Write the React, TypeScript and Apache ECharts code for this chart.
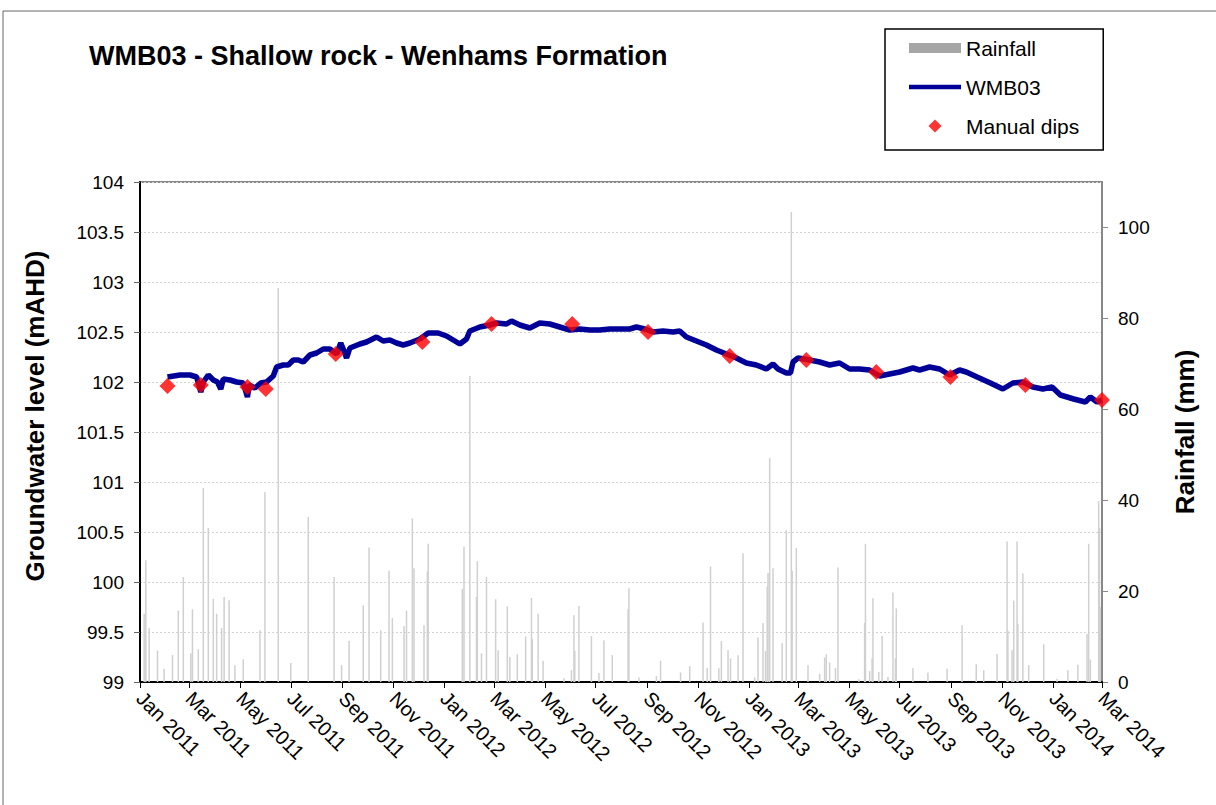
import React, { useEffect, useRef } from "react";
import * as echarts from "echarts";

const MONTHS = ["Jan", "Feb", "Mar", "Apr", "May", "Jun", "Jul", "Aug", "Sep", "Oct", "Nov", "Dec"];

const tickDates = [
  "2011-01-01", "2011-03-01", "2011-05-01", "2011-07-01", "2011-09-01", "2011-11-01",
  "2012-01-01", "2012-03-01", "2012-05-01", "2012-07-01", "2012-09-01", "2012-11-01",
  "2013-01-01", "2013-03-01", "2013-05-01", "2013-07-01", "2013-09-01", "2013-11-01",
  "2014-01-01", "2014-03-01",
];

const rainTicks = [0, 20, 40, 60, 80, 100];

// Daily rainfall (mm)
const rainfall: [string, number][] = [
  ["2011-01-06", 15], ["2011-01-08", 26.8], ["2011-01-12", 11.9], ["2011-01-22", 6.9], ["2011-01-30", 2.9],
  ["2011-02-09", 5.9], ["2011-02-16", 15.7], ["2011-02-22", 23.1], ["2011-03-03", 6.3], ["2011-03-05", 16],
  ["2011-03-12", 7.2], ["2011-03-18", 42.7], ["2011-03-24", 33.9], ["2011-03-30", 18.3], ["2011-04-03", 15],
  ["2011-04-09", 11.9], ["2011-04-12", 18.7], ["2011-04-18", 18], ["2011-04-25", 3.7], ["2011-05-05", 5],
  ["2011-05-25", 11.4], ["2011-05-31", 41.8], ["2011-06-16", 86.7], ["2011-07-01", 4.2], ["2011-07-22", 36.3],
  ["2011-08-22", 23.1], ["2011-08-31", 3.7], ["2011-09-09", 9], ["2011-09-26", 16.9], ["2011-10-03", 29.6],
  ["2011-10-17", 11.4], ["2011-10-27", 24.5], ["2011-10-31", 14.1], ["2011-11-14", 12.3], ["2011-11-17", 15.7],
  ["2011-11-24", 36], ["2011-11-26", 25], ["2011-12-08", 12.5], ["2011-12-12", 24.3], ["2011-12-13", 30.4],
  ["2012-01-23", 20.5], ["2012-01-25", 29.8], ["2012-02-01", 67.3], ["2012-02-09", 18.7], ["2012-02-10", 26.6],
  ["2012-02-15", 6.3], ["2012-02-21", 23.1], ["2012-03-03", 18.2], ["2012-03-06", 7], ["2012-03-17", 16.6],
  ["2012-03-20", 5.5], ["2012-03-29", 6.1], ["2012-04-08", 10], ["2012-04-15", 18.5], ["2012-04-16", 9.4],
  ["2012-04-23", 15], ["2012-04-29", 4.7], ["2012-05-24", 0.8], ["2012-06-02", 2.6], ["2012-06-05", 14.7],
  ["2012-06-06", 6.9], ["2012-06-11", 16.7], ["2012-06-26", 10.1], ["2012-07-05", 2], ["2012-07-11", 9.2],
  ["2012-07-21", 5.9], ["2012-08-09", 16], ["2012-08-10", 20.6], ["2012-08-22", 1], ["2012-09-12", 1.3],
  ["2012-09-17", 4.7], ["2012-10-11", 2.1], ["2012-10-22", 3.5], ["2012-11-07", 13.1], ["2012-11-12", 3.1],
  ["2012-11-16", 25.4], ["2012-11-26", 3], ["2012-11-29", 9], ["2012-12-07", 7], ["2012-12-10", 5.2],
  ["2012-12-19", 5.9], ["2012-12-25", 28.3], ["2013-01-08", 1], ["2013-01-12", 9.8], ["2013-01-18", 13],
  ["2013-01-21", 6.8], ["2013-01-23", 21], ["2013-01-24", 24], ["2013-01-26", 49.3], ["2013-01-30", 25],
  ["2013-02-10", 8.5], ["2013-02-15", 33.4], ["2013-02-21", 103.4], ["2013-02-22", 24.5], ["2013-02-27", 29.5],
  ["2013-03-13", 3.7], ["2013-03-27", 1.8], ["2013-04-02", 5.4], ["2013-04-04", 6.1], ["2013-04-08", 4.3],
  ["2013-04-15", 3.1], ["2013-04-18", 25.2], ["2013-05-13", 0.6], ["2013-05-20", 13], ["2013-05-21", 30.4],
  ["2013-05-26", 2.4], ["2013-05-29", 5.2], ["2013-05-30", 18.4], ["2013-06-06", 2.2], ["2013-06-10", 10.1],
  ["2013-06-17", 1.1], ["2013-06-23", 19.7], ["2013-06-26", 5.2], ["2013-06-27", 16.2], ["2013-07-17", 3.1],
  ["2013-08-04", 2.1], ["2013-08-27", 2.9], ["2013-09-14", 12.5], ["2013-10-01", 3.9], ["2013-10-10", 2.6],
  ["2013-10-26", 6.2], ["2013-11-07", 30.9], ["2013-11-08", 11.3], ["2013-11-13", 7], ["2013-11-15", 17.9],
  ["2013-11-19", 30.9], ["2013-11-20", 12.8], ["2013-11-26", 23.9], ["2013-12-03", 3.7], ["2013-12-21", 8.3],
  ["2014-01-06", 0.7], ["2014-01-19", 2.6], ["2014-01-31", 3.8], ["2014-02-11", 10.6], ["2014-02-13", 30.4],
  ["2014-02-15", 4.9], ["2014-02-25", 39.8], ["2014-02-26", 33.9], ["2014-02-27", 16.5],
];

// Logger groundwater level WMB03 (mAHD)
const wmb03: [string, number][] = [
  ["2011-02-03", 102.05], ["2011-02-18", 102.07], ["2011-03-02", 102.07], ["2011-03-10", 102.05], ["2011-03-15", 101.9],
  ["2011-03-18", 102.0], ["2011-03-24", 102.07], ["2011-03-30", 102.02], ["2011-04-04", 102.0], ["2011-04-08", 101.93],
  ["2011-04-11", 102.03], ["2011-04-19", 102.02], ["2011-04-27", 102.0], ["2011-05-05", 101.99], ["2011-05-10", 101.85],
  ["2011-05-12", 101.97], ["2011-05-19", 101.94], ["2011-05-26", 101.99], ["2011-06-02", 102.0], ["2011-06-10", 102.06],
  ["2011-06-14", 102.15], ["2011-06-22", 102.17], ["2011-06-28", 102.17], ["2011-07-04", 102.22], ["2011-07-10", 102.22],
  ["2011-07-16", 102.2], ["2011-07-24", 102.27], ["2011-08-01", 102.29], ["2011-08-09", 102.33], ["2011-08-17", 102.33],
  ["2011-08-25", 102.28], ["2011-08-30", 102.39], ["2011-09-02", 102.33], ["2011-09-06", 102.24], ["2011-09-10", 102.34],
  ["2011-09-22", 102.38], ["2011-09-30", 102.4], ["2011-10-12", 102.45], ["2011-10-20", 102.41], ["2011-10-28", 102.42],
  ["2011-11-05", 102.39], ["2011-11-13", 102.37], ["2011-11-21", 102.39], ["2011-12-03", 102.43], ["2011-12-13", 102.49],
  ["2011-12-25", 102.49], ["2012-01-04", 102.46], ["2012-01-14", 102.41], ["2012-01-20", 102.38], ["2012-01-28", 102.43],
  ["2012-02-01", 102.51], ["2012-02-13", 102.55], ["2012-02-25", 102.57], ["2012-03-04", 102.59], ["2012-03-16", 102.58],
  ["2012-03-22", 102.61], ["2012-04-01", 102.57], ["2012-04-13", 102.54], ["2012-04-25", 102.59], ["2012-05-07", 102.58],
  ["2012-05-19", 102.55], ["2012-05-31", 102.52], ["2012-06-12", 102.53], ["2012-06-24", 102.52], ["2012-07-06", 102.52],
  ["2012-07-18", 102.53], ["2012-07-30", 102.53], ["2012-08-11", 102.53], ["2012-08-19", 102.55], ["2012-08-29", 102.53],
  ["2012-09-08", 102.5], ["2012-09-20", 102.51], ["2012-10-02", 102.5], ["2012-10-10", 102.51], ["2012-10-18", 102.45],
  ["2012-10-30", 102.41], ["2012-11-11", 102.37], ["2012-11-23", 102.32], ["2012-12-05", 102.28], ["2012-12-17", 102.24],
  ["2012-12-29", 102.19], ["2013-01-10", 102.17], ["2013-01-22", 102.13], ["2013-01-30", 102.18], ["2013-02-05", 102.13],
  ["2013-02-15", 102.09], ["2013-02-20", 102.09], ["2013-02-23", 102.2], ["2013-03-01", 102.24], ["2013-03-15", 102.22],
  ["2013-03-27", 102.2], ["2013-04-08", 102.17], ["2013-04-20", 102.19], ["2013-05-02", 102.13], ["2013-05-14", 102.13],
  ["2013-05-26", 102.12], ["2013-06-07", 102.06], ["2013-06-19", 102.08], ["2013-07-01", 102.1], ["2013-07-17", 102.14],
  ["2013-07-25", 102.12], ["2013-08-06", 102.15], ["2013-08-18", 102.13], ["2013-08-30", 102.07], ["2013-09-11", 102.12],
  ["2013-09-19", 102.1], ["2013-10-02", 102.05], ["2013-10-18", 101.99], ["2013-11-02", 101.93], ["2013-11-14", 101.99],
  ["2013-11-26", 102.0], ["2013-12-08", 101.95], ["2013-12-20", 101.93], ["2013-12-31", 101.95], ["2014-01-10", 101.87],
  ["2014-01-26", 101.83], ["2014-02-09", 101.8], ["2014-02-15", 101.85], ["2014-02-23", 101.8], ["2014-03-01", 101.82],
];

// Manual dip measurements (mAHD)
const manualDips: [string, number][] = [
  ["2011-02-03", 101.96], ["2011-03-15", 101.97], ["2011-05-10", 101.95], ["2011-06-01", 101.93],
  ["2011-08-24", 102.28], ["2011-12-06", 102.4], ["2012-02-27", 102.58], ["2012-06-03", 102.58],
  ["2012-09-02", 102.5], ["2012-12-09", 102.26], ["2013-03-11", 102.22], ["2013-06-03", 102.1],
  ["2013-08-31", 102.05], ["2013-11-29", 101.97], ["2014-03-01", 101.82],
];

const ts = (s: string) => {
  const [y, m, d] = s.split("-").map(Number);
  return Date.UTC(y, m - 1, d);
};

const FONT = "'Liberation Sans', Arial, sans-serif";

export default function App() {
  const ref = useRef<HTMLDivElement>(null);
  useEffect(() => {
    document.body.style.margin = "0";
    if (!ref.current) return;
    const chart = echarts.init(ref.current, null, { renderer: "svg" });
    const tickVals = tickDates.map(ts);
    chart.setOption({
      animation: false,
      backgroundColor: "#fff",
      textStyle: { fontFamily: FONT },
      title: {
        text: "WMB03 - Shallow rock - Wenhams Formation",
        left: 89,
        top: 42,
        padding: 0,
        textStyle: { fontFamily: FONT, fontSize: 27, fontWeight: "bold", color: "#000" },
      },
      graphic: [
        {
          type: "rect",
          shape: { x: 3, y: 11, width: 1240, height: 840 },
          style: { fill: "none", stroke: "#666", lineWidth: 1 },
          silent: true,
          z: -1,
        },
      ],
      legend: {
        orient: "vertical",
        left: 885,
        top: 29,
        padding: [7, 24, 12, 24],
        itemGap: 15,
        itemWidth: 52,
        itemHeight: 13,
        borderColor: "#000",
        borderWidth: 1.5,
        textStyle: { fontFamily: FONT, fontSize: 21, color: "#000", lineHeight: 24 },
        data: [
          { name: "Rainfall", icon: "path://M0,0 H52 V10 H0 Z", itemStyle: { color: "#a6a6a6" } },
          { name: "WMB03", icon: "path://M0,0 H52 V4.5 H0 Z" },
          { name: "Manual dips", icon: "path://M6,0 L12,6 L6,12 L0,6 Z" },
        ],
      },
      grid: {
        left: 140,
        top: 182,
        right: 114,
        bottom: 123,
        show: true,
        borderColor: "#888",
        borderWidth: 2,
      },
      xAxis: {
        type: "value",
        min: ts("2011-01-01"),
        max: ts("2014-03-01"),
        axisLine: { show: true, onZero: false, lineStyle: { color: "#000", width: 2 } },
        axisTick: { show: true, length: 6, lineStyle: { color: "#000" }, customValues: tickVals },
        splitLine: { show: false },
        axisLabel: {
          customValues: tickVals,
          rotate: -45,
          margin: 13,
          fontSize: 20,
          color: "#000",
          fontFamily: FONT,
          formatter: (v: number) => {
            const d = new Date(v);
            return MONTHS[d.getUTCMonth()] + " " + d.getUTCFullYear();
          },
        },
      },
      yAxis: [
        {
          type: "value",
          min: 99,
          max: 104,
          interval: 0.5,
          name: "Groundwater level (mAHD)",
          nameLocation: "middle",
          nameGap: 92,
          nameTextStyle: {
            fontFamily: FONT,
            fontSize: 26,
            fontWeight: "bold",
            color: "#000",
            padding: [0, 0, 0, 32],
          },
          axisLine: { show: true, lineStyle: { color: "#000", width: 2 } },
          axisTick: { show: true, length: 6, lineStyle: { color: "#666" } },
          axisLabel: { fontSize: 19, color: "#000", margin: 16, fontFamily: FONT },
          splitLine: { show: true, lineStyle: { color: "#d4d4d4", type: [2, 2], width: 1 } },
        },
        {
          type: "value",
          min: 0,
          max: 110,
          interval: 20,
          name: "Rainfall (mm)",
          nameLocation: "middle",
          nameGap: 70,
          nameRotate: 90,
          nameTextStyle: { fontFamily: FONT, fontSize: 26, fontWeight: "bold", color: "#000" },
          axisLine: { show: true, lineStyle: { color: "#888", width: 2 } },
          axisTick: { show: true, length: 6, lineStyle: { color: "#888" }, customValues: rainTicks },
          axisLabel: { fontSize: 19, color: "#000", margin: 16, fontFamily: FONT, customValues: rainTicks },
          splitLine: { show: false },
        },
      ],
      series: [
        {
          name: "Rainfall",
          type: "bar",
          yAxisIndex: 1,
          barWidth: 1.5,
          itemStyle: { color: "#d0d0d0" },
          data: rainfall.map(([d, v]) => [ts(d), v]),
          z: 1,
        },
        {
          name: "WMB03",
          type: "line",
          yAxisIndex: 0,
          showSymbol: false,
          symbol: "none",
          lineStyle: { color: "#000099", width: 5.5 },
          itemStyle: { color: "#000099" },
          data: wmb03.map(([d, v]) => [ts(d), v]),
          z: 3,
        },
        {
          name: "Manual dips",
          type: "scatter",
          yAxisIndex: 0,
          symbol: "diamond",
          symbolSize: 16,
          itemStyle: { color: "#ff0000" },
          data: manualDips.map(([d, v]) => [ts(d), v]),
          z: 4,
        },
      ],
    });
    return () => chart.dispose();
  }, []);
  return <div ref={ref} style={{ width: 1216, height: 805 }} />;
}
